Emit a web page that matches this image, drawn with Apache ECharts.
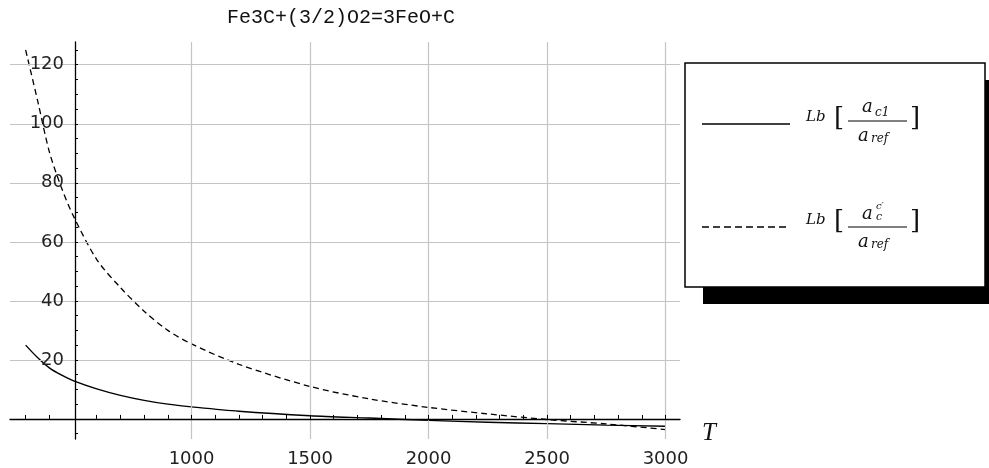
<!DOCTYPE html>
<html>
<head>
<meta charset="utf-8">
<script src="https://cdn.jsdelivr.net/npm/echarts@6/dist/echarts.min.js"></script>
<style>
  html, body { margin: 0; padding: 0; background: #fff; }
  #main { width: 989px; height: 468px; }
</style>
</head>
<body>
<div id="main"></div>
<script>
// T 取值与两条曲线
var temps  = [300, 350, 400, 450, 500, 600, 700, 800, 900, 1000, 1200, 1500, 1750, 2000, 2250, 2500, 2750, 3000];
var lbC1   = [25, 20.8, 17.3, 14.9, 13, 10.2, 8, 6.3, 5, 4.1, 2.6, 1.1, 0.3, -0.5, -1.1, -1.6, -2.1, -2.5];
var lbCp   = [125, 108, 90.5, 78.6, 69, 54, 44.5, 36.5, 30, 25.4, 18.5, 11, 6.8, 3.9, 1.7, -0.2, -1.7, -3.6];

var xLabels = [1000, 1500, 2000, 2500, 3000];
var xTicks  = [300, 400, 600, 700, 800, 900, 1000, 1100, 1200, 1300, 1400, 1500, 1600, 1700, 1800, 1900, 2000,
               2100, 2200, 2300, 2400, 2500, 2600, 2700, 2800, 2900, 3000];
var yLabels = [20, 40, 60, 80, 100, 120];
var yTicks  = [-5, 5, 10, 15, 20, 25, 30, 35, 40, 45, 50, 55, 60, 65, 70, 75, 80, 85, 90, 95, 100, 105, 110, 115, 120, 125];

function pairs(ys) {
    return temps.map(function (t, i) { return [t, ys[i]]; });
}

var myChart = echarts.init(document.getElementById('main'));

var gridLines = xLabels.map(function (v) { return { xAxis: v }; })
    .concat(yLabels.map(function (v) { return { yAxis: v }; }));

var labelFont = { fontFamily: 'DejaVu Sans', fontSize: 18, color: '#222', formatter: function (v) { return String(v); } };

// 图例里的斜体小字
function txt(x, y, s, size, italic) {
    return {
        type: 'text', x: x, y: y, z: 12,
        style: { text: s, font: (italic === false ? '' : 'italic ') + size + 'px "DejaVu Serif"', fill: '#111', verticalAlign: 'middle' }
    };
}

myChart.setOption({
    animation: false,
    title: {
        text: 'Fe3C+(3/2)O2=3FeO+C',
        left: 227, top: 8, padding: 0,
        textStyle: { fontFamily: 'Liberation Mono', fontSize: 20, fontWeight: 'normal', color: '#111' }
    },
    grid: { left: 10, right: 309, top: 42, bottom: 11 },
    xAxis: {
        type: 'value',
        min: 234, max: 3061,
        z: 5,
        axisLine: { onZero: true, lineStyle: { color: '#000', width: 1.3 } },
        axisTick: { show: true, inside: true, length: 4, customValues: xTicks, lineStyle: { color: '#000' } },
        axisLabel: Object.assign({ customValues: xLabels, margin: 11 }, labelFont),
        splitLine: { show: false }
    },
    yAxis: {
        type: 'value',
        min: -6.8, max: 127.7,
        offset: -65,
        z: 5,
        axisLine: { show: true, onZero: false, lineStyle: { color: '#000', width: 1.3 } },
        axisTick: { show: true, inside: true, length: 3, customValues: yTicks, lineStyle: { color: '#000' } },
        axisLabel: Object.assign({ customValues: yLabels, margin: 11 }, labelFont),
        splitLine: { show: false }
    },
    series: [
        {
            name: 'grid',
            type: 'line',
            data: [],
            z: 1,
            silent: true,
            markLine: {
                silent: true,
                symbol: 'none',
                label: { show: false },
                lineStyle: { color: '#c4c4c4', type: 'solid', width: 1.2 },
                data: gridLines
            }
        },
        {
            name: 'Lb[ac1/aref]',
            type: 'line',
            data: pairs(lbC1),
            z: 3,
            smooth: 0.3,
            showSymbol: false,
            lineStyle: { color: '#000', width: 1.4 }
        },
        {
            name: "Lb[ac'/aref]",
            type: 'line',
            data: pairs(lbCp),
            z: 3,
            smooth: 0.3,
            showSymbol: false,
            lineStyle: { color: '#000', width: 1.3, type: [6, 4] }
        }
    ],
    graphic: [
        // 横轴名 T
        { type: 'text', x: 702, y: 433, z: 12,
          style: { text: 'T', font: 'italic 25px "Liberation Serif"', fill: '#111', verticalAlign: 'middle' } },
        // 图例框和阴影
        { type: 'rect', shape: { x: 703, y: 80, width: 300, height: 224 }, style: { fill: '#000' }, z: 10 },
        { type: 'rect', shape: { x: 685, y: 63, width: 300, height: 224 }, style: { fill: '#fff', stroke: '#000', lineWidth: 1.5 }, z: 11 },
        // 第一项
        { type: 'line', shape: { x1: 702, y1: 124, x2: 790, y2: 124 }, style: { stroke: '#000', lineWidth: 1.4 }, z: 12 },
        txt(806, 117.5, 'Lb', 15),
        txt(834, 119, '[', 26, false),
        txt(862, 107, 'a', 18),
        txt(875, 112.5, 'c1', 12),
        { type: 'line', shape: { x1: 848, y1: 121, x2: 907, y2: 121 }, style: { stroke: '#000', lineWidth: 1 }, z: 12 },
        txt(858, 136, 'a', 18),
        txt(871, 139, 'ref', 12),
        txt(910, 119, ']', 26, false),
        // 第二项
        { type: 'line', shape: { x1: 702, y1: 227, x2: 790, y2: 227 }, style: { stroke: '#000', lineWidth: 1.3, lineDash: [7, 4] }, z: 12 },
        txt(806, 220.5, 'Lb', 15),
        txt(834, 222, '[', 26, false),
        txt(862, 214, 'a', 18),
        txt(876, 206, "c\u2032", 10),
        txt(876, 217, 'c', 11),
        { type: 'line', shape: { x1: 848, y1: 227, x2: 907, y2: 227 }, style: { stroke: '#000', lineWidth: 1 }, z: 12 },
        txt(858, 242, 'a', 18),
        txt(871, 245, 'ref', 12),
        txt(910, 222, ']', 26, false)
    ]
});
</script>
</body>
</html>
